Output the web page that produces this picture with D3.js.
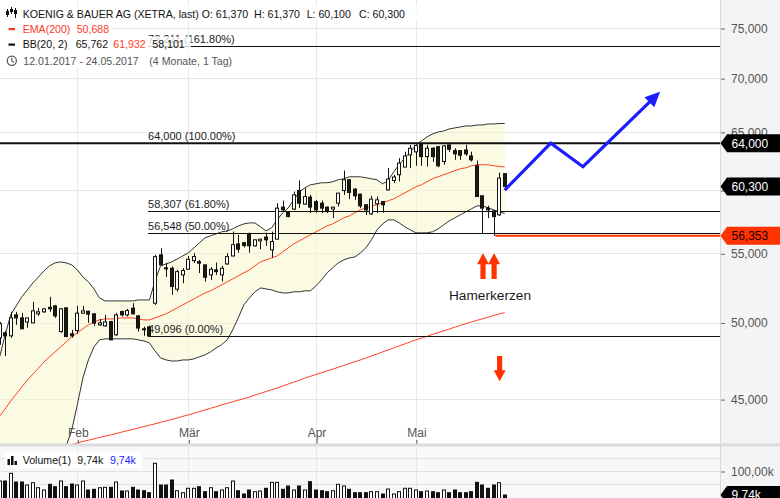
<!DOCTYPE html>
<html>
<head>
<meta charset="utf-8">
<script src="https://cdn.jsdelivr.net/npm/d3@7"></script>
<style>
html, body { margin: 0; padding: 0; background: #fff; }
svg { display: block; font-family: "Liberation Sans", Arial, sans-serif; }
</style>
</head>
<body>
<svg id="chart" width="780" height="498"></svg>
<script>
// ---- Koenig & Bauer AG (XETRA) daily candles, 12.01.2017 - 24.05.2017 ----
const opens = [48.96,49.30,49.09,50.53,50.32,50.04,49.98,50.60,50.74,51.06,
  51.16,49.38,51.02,49.23,49.45,50.65,50.79,50.60,49.84,49.77,
  50.06,49.16,50.76,50.53,51.00,50.46,49.57,49.70,51.35,54.88,
  53.91,53.88,52.35,53.39,53.81,54.45,54.37,54.13,53.39,53.76,
  53.39,54.20,54.80,55.72,55.80,56.49,55.57,55.95,56.24,55.26,
  56.08,58.61,58.25,58.45,59.96,58.85,59.42,59.06,58.93,58.61,
  58.45,58.93,59.96,60.86,60.08,59.67,58.80,58.07,58.88,59.06,
  60.02,60.80,61.28,61.93,62.98,63.24,63.91,62.83,63.56,63.70,
  62.41,63.85,63.35,63.35,63.41,62.89,62.04,59.53,58.53,58.31,
  57.99,61.37];
const highs = [50.04,49.43,50.74,50.74,50.67,50.32,51.44,51.02,51.02,51.80,
  51.23,51.02,51.05,49.50,51.16,51.16,50.81,50.62,50.25,50.53,
  50.11,50.67,50.83,50.95,51.35,50.53,49.72,49.79,54.88,55.39,
  54.28,54.01,53.76,53.89,54.80,55.01,54.50,54.15,53.96,54.30,
  54.06,55.01,56.67,56.42,55.88,56.59,56.05,56.10,56.59,56.67,
  58.93,59.14,58.27,59.88,60.80,60.16,59.61,59.20,59.14,58.66,
  58.63,59.77,61.64,60.88,60.16,59.69,58.82,59.53,59.47,59.08,
  61.85,61.28,62.70,63.26,63.85,64.00,63.94,63.85,63.67,63.76,
  63.85,63.89,63.56,63.41,63.85,63.26,62.49,59.55,58.72,58.39,
  61.47,61.37];
const lows = [48.49,47.75,48.96,49.84,49.55,49.64,49.95,50.46,50.67,50.74,
  50.32,49.30,49.02,48.96,49.23,50.60,49.98,49.77,49.77,49.70,
  48.80,49.09,50.41,50.41,50.58,49.38,49.10,49.096,51.23,54.11,
  53.24,51.94,52.18,52.78,53.76,54.26,53.52,52.90,53.02,53.39,
  52.90,54.13,54.75,55.05,55.44,55.05,55.51,55.31,55.57,54.67,
  56.06,58.25,57.81,58.39,58.53,58.79,58.13,58.17,58.13,58.13,
  57.73,58.66,59.61,59.26,59.20,58.53,57.99,57.99,58.13,58.17,
  59.96,60.58,60.72,61.98,61.84,62.04,62.04,61.98,62.38,61.93,
  62.13,63.24,62.55,62.55,62.89,62.41,59.45,56.55,57.73,56.353,
  57.91,60.10];
const closes = [49.91,49.09,50.32,50.32,49.57,50.32,50.81,50.74,50.95,50.95,
  50.46,50.95,49.04,49.09,50.65,50.81,50.58,49.96,49.98,50.04,
  48.82,50.53,50.53,50.83,50.60,49.62,49.50,49.09,54.75,54.13,
  53.83,52.54,53.63,53.71,54.55,54.75,54.26,53.22,53.81,53.63,
  53.88,54.75,55.65,55.31,55.59,55.57,56.03,56.08,56.03,55.90,
  58.53,58.39,57.85,59.61,58.93,59.47,58.61,58.39,58.53,58.25,
  58.61,59.75,60.86,59.80,59.53,58.71,58.39,59.26,59.20,58.80,
  60.92,61.09,62.27,62.89,63.56,63.81,62.83,63.56,62.83,62.04,
  63.76,63.47,63.07,62.95,63.07,62.55,59.47,58.53,58.39,57.85,
  61.00,60.30];
// volume in thousand shares
const volumes = [62.4,62.4,91.4,58.7,58.7,47.4,56.0,37.2,28.6,50.0,
  41.0,62.4,41.0,51.1,47.4,62.4,28.6,31.2,37.2,38.7,
  38.7,58.7,24.8,24.8,38.7,28.6,25.9,18.4,129.0,47.4,
  47.4,66.2,25.9,18.4,35.0,35.0,41.0,22.2,37.2,22.2,
  28.6,37.2,62.4,25.9,13.5,28.6,22.2,24.8,35.0,57.5,
  57.5,31.2,43.6,28.6,43.6,28.6,59.8,28.6,25.9,22.2,
  25.9,50.0,43.6,31.2,18.4,18.4,18.4,22.2,22.2,13.5,
  32.3,13.5,22.2,35.0,35.0,28.6,22.2,24.8,22.2,18.4,
  28.6,18.4,28.6,18.4,18.4,22.2,57.5,47.4,35.0,47.4,
  56.0,9.74];
// Bollinger Bands (20, 2)
const bbUpper = [47.69,49.16,50.53,51.16,51.80,52.30,52.80,53.24,53.69,54.06,
  54.28,54.35,54.28,54.13,53.76,53.24,52.88,52.37,51.72,51.51,
  51.51,51.51,51.51,51.51,51.51,51.58,51.58,51.58,52.95,54.06,
  54.20,54.35,54.57,54.80,55.03,55.41,55.80,56.18,56.34,56.49,
  56.65,56.72,56.88,57.11,57.27,57.35,57.35,57.04,56.72,56.96,
  57.59,58.15,58.55,59.20,59.86,60.19,60.44,60.52,60.61,60.61,
  60.69,60.86,60.94,61.11,61.11,61.11,61.03,60.94,60.86,60.52,
  60.78,61.53,62.13,62.72,63.24,63.85,64.20,64.56,64.82,65.00,
  65.09,65.27,65.36,65.45,65.54,65.54,65.63,65.63,65.72,65.72,
  65.76,65.762];
const bbMiddle = [43.96,44.39,44.88,45.31,45.75,46.19,46.57,46.96,47.36,47.69,
  48.02,48.35,48.69,49.02,49.30,49.57,49.84,50.04,50.18,50.25,
  50.25,50.25,50.32,50.32,50.32,50.25,50.18,50.18,50.32,50.46,
  50.60,50.81,51.02,51.23,51.44,51.65,51.87,52.08,52.23,52.44,
  52.66,52.88,53.09,53.32,53.54,53.76,54.06,54.35,54.50,54.65,
  54.80,55.11,55.41,55.72,55.95,56.18,56.42,56.65,56.88,57.11,
  57.27,57.51,57.75,57.91,58.15,58.39,58.55,58.71,58.80,58.96,
  59.12,59.28,59.53,59.77,60.02,60.27,60.44,60.69,60.94,61.11,
  61.28,61.45,61.62,61.79,61.87,62.04,62.13,62.13,62.13,62.04,
  62.00,61.932];
const bbLower = [39.99,40.15,40.37,40.60,40.82,40.99,41.16,41.33,41.50,41.67,
  41.84,42.02,42.19,43.12,44.64,46.32,47.49,48.35,48.82,48.89,
  48.89,48.89,48.89,48.89,48.89,48.82,48.75,48.62,48.08,47.62,
  47.49,47.42,47.42,47.49,47.49,47.56,47.69,47.82,48.02,48.28,
  48.49,48.82,49.50,50.32,51.23,51.72,52.16,52.44,52.37,52.30,
  52.16,52.08,52.08,52.16,52.16,52.23,52.23,52.59,53.02,53.54,
  53.91,54.28,54.50,54.65,54.72,55.03,55.41,56.03,56.80,57.27,
  57.59,57.59,57.35,57.04,56.80,56.57,56.57,56.57,56.65,56.88,
  57.19,57.51,57.75,57.99,58.23,58.47,58.71,58.71,58.55,58.39,
  58.23,58.101];
// EMA(200)
const ema200 = [41.28,41.35,41.43,41.50,41.58,41.67,41.75,41.82,41.88,41.95,
  42.02,42.11,42.19,42.28,42.36,42.45,42.52,42.60,42.68,42.76,
  42.83,42.91,43.00,43.08,43.16,43.24,43.33,43.41,43.49,43.58,
  43.66,43.75,43.84,43.94,44.03,44.13,44.23,44.33,44.43,44.53,
  44.64,44.73,44.83,44.93,45.03,45.12,45.25,45.35,45.47,45.58,
  45.69,45.81,45.94,46.06,46.18,46.32,46.43,46.55,46.66,46.78,
  46.89,47.01,47.13,47.25,47.37,47.49,47.62,47.75,47.88,48.02,
  48.15,48.28,48.42,48.55,48.69,48.82,48.94,49.06,49.19,49.31,
  49.43,49.55,49.68,49.80,49.92,50.04,50.15,50.26,50.37,50.48,
  50.59,50.688];

const priceTicks = [45, 50, 55, 60, 65, 70, 75];
const volumeTicks = [50, 100, 150];
const volumeLabelTicks = [100];
const monthNames = ["Feb", "Mär", "Apr", "Mai"];
const monthNumbers = [1, 2, 3, 4];
const holidays = ["2017-04-14", "2017-04-17", "2017-05-01"];

// Fibonacci retracement
const fibLevels = [73.211, 64.000, 58.307, 56.548, 49.096];
const fibPercents = ["161.80%", "100.00%", "61.80%", "50.00%", "0.00%"];
const fibStartIndex = 26.75;
// horizontal marks
const resistanceLevel = 64.000;
const stopLevel = 56.353;
const stopStartIndex = 89.3;
// projected path (index, price)
const forecastIndex = [91, 99.3, 105.1, 119];
const forecastPrice = [60.0, 64.0, 61.96, 68.7];
// annotation arrows (index, tail price, tip price)
const upArrows = [[87, 53.09, 55.01], [89, 53.09, 55.01]];
const downArrows = [[90, 47.75, 46.12]];
const noteText = "Hamerkerzen";
const noteAt = [88.35, 51.94];

// ---- layout ----
const W = 780, H = 498;
const plotR = 720, plotB = 444;
const volTop = 447, volBase = 497.6;
const svg = d3.select("#chart");

const de = d3.formatLocale({decimal: ",", thousands: ".", grouping: [3], currency: ["", "€"]});
const fmt3 = de.format(".3f");
const fmt2 = de.format(".2f");

// trading calendar
const isoDay = d3.utcFormat("%Y-%m-%d");
const dates = d3.utcDay.range(new Date(Date.UTC(2017, 0, 12)), new Date(Date.UTC(2017, 4, 25)))
  .filter(d => d.getUTCDay() % 6 !== 0 && !holidays.includes(isoDay(d)));
const monthIdx = monthNumbers.map(m => dates.findIndex(d => d.getUTCMonth() === m));

const candles = dates.map((d, i) => ({i, o: opens[i], h: highs[i], l: lows[i], c: closes[i], v: volumes[i]}));

const x = d3.scaleLinear().domain([0, dates.length - 1]).range([-0.4, 504.7]);
const y = d3.scaleLog().domain([42.30, 77.95]).range([plotB, 0]);
const yv = d3.scaleLinear().domain([0, 190.3]).range([volBase, volTop]);

// ---- backgrounds ----
svg.append("rect").attr("width", W).attr("height", H).attr("fill", "#fff");
svg.append("rect").attr("x", 0).attr("y", 446).attr("width", plotR).attr("height", H - 446).attr("fill", "#f8f8f8");
svg.append("rect").attr("x", plotR).attr("y", 0).attr("width", W - plotR).attr("height", H).attr("fill", "#f4f4f4");
svg.append("line").attr("x1", plotR + 0.5).attr("x2", plotR + 0.5).attr("y1", 0).attr("y2", H)
  .attr("stroke", "#d8d8d8");

// ---- grid ----
const grid = svg.append("g").attr("stroke", "#e8e8e8").attr("stroke-width", 1);
priceTicks.forEach(t => {
  const yy = Math.round(y(t)) + 0.5;
  grid.append("line").attr("x1", 0).attr("x2", plotR).attr("y1", yy).attr("y2", yy);
});
monthIdx.forEach(mi => {
  const xx = Math.round(x(mi)) + 0.5;
  grid.append("line").attr("x1", xx).attr("x2", xx).attr("y1", 0).attr("y2", plotB);
  grid.append("line").attr("x1", xx).attr("x2", xx).attr("y1", volTop).attr("y2", H);
});
volumeTicks.forEach(t => {
  const yy = Math.round(yv(t)) + 0.5;
  grid.append("line").attr("x1", 0).attr("x2", plotR).attr("y1", yy).attr("y2", yy).attr("stroke", "#e2e2e2");
});

// ---- main plot ----
svg.append("clipPath").attr("id", "clipMain").append("rect")
  .attr("x", 0).attr("y", 0).attr("width", plotR).attr("height", plotB);
const main = svg.append("g").attr("clip-path", "url(#clipMain)");

const band = d3.area().x((d, i) => x(i)).y0((d, i) => y(bbLower[i])).y1((d, i) => y(bbUpper[i]));
main.append("path").datum(candles).attr("d", band).attr("fill", "#f7f7c8").attr("fill-opacity", 0.5);
const lineOf = arr => d3.line().x((d, i) => x(i)).y((d, i) => y(arr[i]));
main.append("path").datum(candles).attr("d", lineOf(bbUpper)).attr("fill", "none").attr("stroke", "#333").attr("stroke-width", 1);
main.append("path").datum(candles).attr("d", lineOf(bbLower)).attr("fill", "none").attr("stroke", "#333").attr("stroke-width", 1);
main.append("path").datum(candles).attr("d", lineOf(bbMiddle)).attr("fill", "none").attr("stroke", "#ff4020").attr("stroke-width", 1);
main.append("path").datum(candles).attr("d", lineOf(ema200)).attr("fill", "none").attr("stroke", "#ff4020").attr("stroke-width", 1);

// Fibonacci lines and labels
fibLevels.forEach((lv, k) => {
  const yy = Math.round(y(lv)) + 0.5;
  main.append("line").attr("x1", x(fibStartIndex)).attr("x2", plotR).attr("y1", yy).attr("y2", yy)
    .attr("stroke", "#111").attr("stroke-width", 1);
  main.append("text").attr("x", x(fibStartIndex)).attr("y", yy - 3.5)
    .attr("font-size", 11).attr("fill", "#222").text(`${fmt3(lv)} (${fibPercents[k]})`);
});
main.append("line").attr("x1", 0).attr("x2", plotR).attr("y1", y(resistanceLevel)).attr("y2", y(resistanceLevel))
  .attr("stroke", "#111").attr("stroke-width", 2);
main.append("line").attr("x1", x(stopStartIndex)).attr("x2", plotR).attr("y1", y(stopLevel)).attr("y2", y(stopLevel))
  .attr("stroke", "#ff3300").attr("stroke-width", 2);

// candles
const cg = main.append("g");
candles.forEach(d => {
  const cx = Math.round(x(d.i));
  const up = d.c >= d.o;
  cg.append("line").attr("x1", cx + 0.5).attr("x2", cx + 0.5).attr("y1", y(d.h)).attr("y2", y(d.l))
    .attr("stroke", "#111").attr("stroke-width", 1);
  const top = y(Math.max(d.o, d.c)), bot = y(Math.min(d.o, d.c));
  cg.append("rect").attr("x", cx - 1.5).attr("y", top).attr("width", 3).attr("height", Math.max(1, bot - top))
    .attr("fill", up ? "#fff" : "#1b1b10").attr("stroke", "#111").attr("stroke-width", 1);
});

// projected path with arrow head
const fp = forecastIndex.map((fi, k) => [x(fi), y(forecastPrice[k])]);
const tip = fp[fp.length - 1], prev = fp[fp.length - 2];
const len = Math.hypot(tip[0] - prev[0], tip[1] - prev[1]);
const ux = (tip[0] - prev[0]) / len, uy = (tip[1] - prev[1]) / len;
const headL = 15, headW = 7;
const linePts = fp.slice(0, -1).concat([[tip[0] - ux * (headL - 3), tip[1] - uy * (headL - 3)]]);
main.append("path").attr("d", d3.line()(linePts)).attr("fill", "none").attr("stroke", "#1c1cff")
  .attr("stroke-width", 3.2).attr("stroke-linejoin", "miter");
const bx = tip[0] - ux * headL, by = tip[1] - uy * headL;
main.append("path").attr("fill", "#1c1cff")
  .attr("d", d3.line()([tip, [bx - uy * headW, by + ux * headW], [bx + uy * headW, by - ux * headW]]) + "Z");

// red arrows
function vArrow(cx, yTail, yTip) {
  const dir = yTip < yTail ? -1 : 1;
  const headLen = 11, hw = 6, sw = 2.6;
  const yb = yTip - dir * headLen;
  return d3.line()([[cx - sw, yTail], [cx - sw, yb], [cx - hw, yb], [cx, yTip], [cx + hw, yb], [cx + sw, yb], [cx + sw, yTail]]) + "Z";
}
upArrows.concat(downArrows).forEach(a => {
  main.append("path").attr("d", vArrow(x(a[0]) + 0.5, y(a[1]), y(a[2]))).attr("fill", "#ff3300");
});
main.append("text").attr("x", x(noteAt[0])).attr("y", y(noteAt[1])).attr("dy", "0.35em")
  .attr("text-anchor", "middle").attr("font-size", 13.7).attr("fill", "#1a1a1a").text(noteText);

// ---- month axis ----
const xAxis = d3.axisTop(x).tickValues(monthIdx).tickFormat((d, k) => monthNames[k]).tickSize(4).tickPadding(3);
const xa = svg.append("g").attr("transform", `translate(0.5,${plotB})`).call(xAxis);
xa.select(".domain").remove();
xa.selectAll("line").attr("stroke", "#555");
xa.selectAll("text").attr("font-size", 12).attr("fill", "#555").attr("font-family", "Liberation Sans, Arial, sans-serif");

// separator between panes
svg.append("rect").attr("x", 0).attr("y", 443.5).attr("width", W).attr("height", 3).attr("fill", "#dcdcdc");

// ---- price axis ----
const yAxis = d3.axisRight(y).tickValues(priceTicks).tickFormat(fmt3).tickSize(4).tickPadding(6);
const ya = svg.append("g").attr("transform", `translate(${plotR + 1},0.5)`).call(yAxis);
ya.select(".domain").remove();
ya.selectAll("line").attr("stroke", "#666");
ya.selectAll("text").attr("font-size", 12).attr("fill", "#555").attr("font-family", "Liberation Sans, Arial, sans-serif");

const vAxis = d3.axisRight(yv).tickValues(volumeLabelTicks).tickFormat(d => fmt2(d) + "k").tickSize(4).tickPadding(6);
const va = svg.append("g").attr("transform", `translate(${plotR + 1},0.5)`).call(vAxis);
va.select(".domain").remove();
va.selectAll("line").attr("stroke", "#666");
va.selectAll("text").attr("font-size", 12).attr("fill", "#555").attr("font-family", "Liberation Sans, Arial, sans-serif");

// value tags
function tag(yc, label, bg, fg) {
  const g = svg.append("g");
  g.append("path").attr("fill", bg)
    .attr("d", `M${plotR + 0.5},${yc} L${plotR + 7},${yc - 9} L${W},${yc - 9} L${W},${yc + 9} L${plotR + 7},${yc + 9} Z`);
  g.append("text").attr("x", plotR + 11.5).attr("y", yc).attr("dy", "0.36em")
    .attr("font-size", 12).attr("fill", fg).text(label);
}
tag(y(resistanceLevel), fmt3(resistanceLevel), "#000", "#fff");
tag(y(closes[closes.length - 1]), fmt3(closes[closes.length - 1]), "#000", "#fff");
tag(y(stopLevel), fmt3(stopLevel), "#ff3300", "#1a0000");

// ---- volume pane ----
svg.append("clipPath").attr("id", "clipVol").append("rect")
  .attr("x", 0).attr("y", volTop).attr("width", plotR).attr("height", H - volTop);
const vg = svg.append("g").attr("clip-path", "url(#clipVol)");
candles.forEach(d => {
  const cx = Math.round(x(d.i));
  const up = d.c >= d.o;
  const top = yv(d.v);
  vg.append("rect").attr("x", cx - 1.5).attr("y", top).attr("width", 3).attr("height", volBase + 4 - top)
    .attr("fill", up ? "#fff" : "#111").attr("stroke", "#111").attr("stroke-width", 1);
});
tag(yv(volumes[volumes.length - 1]), fmt2(volumes[volumes.length - 1]) + "k", "#000", "#fff");

// volume legend
const vl = svg.append("g");
vl.append("rect").attr("x", 5).attr("y", 452.5).attr("width", 137).attr("height", 16).attr("fill", "#fff");
[[7.5, 6], [11, 9], [14.5, 4]].forEach(b => vl.append("rect").attr("x", b[0]).attr("y", 465 - b[1]).attr("width", 2.5).attr("height", b[1]).attr("fill", "#111"));
vl.append("text").attr("x", 22.7).attr("y", 464.3).attr("font-size", 10.6).attr("fill", "#111").text("Volume(1)");
vl.append("text").attr("x", 77.3).attr("y", 464.3).attr("font-size", 10.6).attr("fill", "#111").text(fmt2(volumes[volumes.length - 1]) + "k");
vl.append("text").attr("x", 110).attr("y", 464.3).attr("font-size", 10.6).attr("fill", "#2222ff").text(fmt2(volumes[volumes.length - 1]) + "k");

// ---- price legend ----
const last = candles[candles.length - 1];
const lg = svg.append("g").attr("font-size", 10.6);
const rows = [[5.5, 424], [21, 113], [36.5, 191], [52.5, 236]];
rows.forEach(r => lg.append("rect").attr("x", 0).attr("y", r[0]).attr("width", r[1]).attr("height", 15.5)
  .attr("fill", "#fff").attr("fill-opacity", 0.78));
// candle icon
[[7, 9, 17, 11, 15], [11, 7, 14, 9, 12], [15, 8, 18, 10, 14]].forEach(c => {
  lg.append("line").attr("x1", c[0] + 0.5).attr("x2", c[0] + 0.5).attr("y1", c[1]).attr("y2", c[2]).attr("stroke", "#111");
  lg.append("rect").attr("x", c[0] - 1).attr("y", c[3]).attr("width", 3).attr("height", c[4] - c[3]).attr("fill", "#111");
});
lg.append("text").attr("x", 22.7).attr("y", 17.8).attr("fill", "#111").text("KOENIG & BAUER AG (XETRA, last)");
lg.append("text").attr("x", 201.7).attr("y", 17.8).attr("fill", "#111").text("O: " + fmt3(last.o));
lg.append("text").attr("x", 254).attr("y", 17.8).attr("fill", "#111").text("H: " + fmt3(last.h));
lg.append("text").attr("x", 306.7).attr("y", 17.8).attr("fill", "#111").text("L: " + fmt3(last.l));
lg.append("text").attr("x", 359).attr("y", 17.8).attr("fill", "#111").text("C: " + fmt3(last.c));
// EMA row
lg.append("rect").attr("x", 8.5).attr("y", 28).attr("width", 6.5).attr("height", 2.2).attr("fill", "#ff3b1f");
lg.append("text").attr("x", 22.7).attr("y", 32.8).attr("fill", "#ff3b1f").text("EMA(200)");
lg.append("text").attr("x", 76.7).attr("y", 32.8).attr("fill", "#ff3b1f").text(fmt3(ema200[ema200.length - 1]));
// BB row
lg.append("rect").attr("x", 8.5).attr("y", 43.5).attr("width", 6.5).attr("height", 2.2).attr("fill", "#111");
lg.append("text").attr("x", 22.7).attr("y", 48.3).attr("fill", "#111").text("BB(20, 2)");
lg.append("text").attr("x", 75.7).attr("y", 48.3).attr("fill", "#111").text(fmt3(bbUpper[bbUpper.length - 1]));
lg.append("text").attr("x", 113.3).attr("y", 48.3).attr("fill", "#ff3b1f").text(fmt3(bbMiddle[bbMiddle.length - 1]));
lg.append("text").attr("x", 152.3).attr("y", 48.3).attr("fill", "#111").text(fmt3(bbLower[bbLower.length - 1]));
// period row
lg.append("circle").attr("cx", 11.8).attr("cy", 60.8).attr("r", 4.6).attr("fill", "none").attr("stroke", "#555").attr("stroke-width", 1.2);
lg.append("path").attr("d", "M11.8,57.8 L11.8,61 L14,62.6").attr("fill", "none").attr("stroke", "#555").attr("stroke-width", 1.1);
lg.append("text").attr("x", 23.3).attr("y", 64.8).attr("fill", "#555").text("12.01.2017 - 24.05.2017");
lg.append("text").attr("x", 149.3).attr("y", 64.8).attr("fill", "#555").text("(4 Monate, 1 Tag)");
</script>
</body>
</html>
